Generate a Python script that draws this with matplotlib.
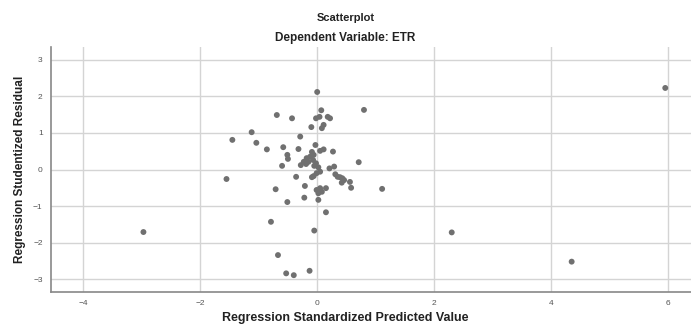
import matplotlib
matplotlib.use('Agg')
import matplotlib.pyplot as plt

# --- Data ---
predicted = [
    5.95, 1.11, 2.30, 4.35, -2.97,
    0.00, 0.80, -0.69, -0.43, 0.07, -0.02, 0.04, 0.18, 0.22, 0.11, 0.08,
    -0.10, -1.12, -1.45, -1.04, -0.29, -0.86, -0.58, -0.32, -0.03, 0.05,
    0.11, 0.27, -0.51, -0.50, -0.09, -0.06, -0.12, -0.18, -0.23, -0.28,
    -0.15, -0.07, -0.02, -0.05, 0.02, -0.19, -0.60, 0.71, 0.21, 0.29,
    -1.55, -0.36, 0.05, -0.01, -0.06, -0.09, 0.31, 0.35, 0.39, 0.43,
    0.46, 0.42, 0.56, 0.58, -0.21, -0.71, -0.01, 0.05, 0.15, 0.02,
    0.08, 0.02, -0.22, -0.51, 0.15, -0.79, -0.05, -0.67, -0.53, -0.40,
    -0.13,
]
residual = [
    2.23, -0.53, -1.72, -2.52, -1.71,
    2.12, 1.63, 1.49, 1.40, 1.62, 1.40, 1.44, 1.44, 1.40, 1.22, 1.13,
    1.16, 1.02, 0.81, 0.73, 0.90, 0.55, 0.61, 0.56, 0.67, 0.51,
    0.55, 0.49, 0.40, 0.29, 0.48, 0.40, 0.35, 0.31, 0.21, 0.12,
    0.21, 0.26, 0.17, 0.10, 0.06, 0.15, 0.10, 0.20, 0.03, 0.08,
    -0.26, -0.20, -0.06, -0.10, -0.18, -0.21, -0.13, -0.20, -0.21, -0.24,
    -0.29, -0.36, -0.34, -0.50, -0.45, -0.54, -0.56, -0.51, -0.51, -0.65,
    -0.61, -0.83, -0.77, -0.89, -1.17, -1.43, -1.67, -2.34, -2.84, -2.89,
    -2.77,
]
x_ticks = [-4, -2, 0, 2, 4, 6]
y_ticks = [-3, -2, -1, 0, 1, 2, 3]

plt.rcParams['font.family'] = ['Liberation Sans', 'DejaVu Sans']

fig = plt.figure(figsize=(6.91, 3.25), dpi=100)
ax = fig.add_axes([51 / 691, 1 - 292 / 325, 640 / 691, 245 / 325])

ax.scatter(predicted, residual, s=18, color='#707070', edgecolors='none', zorder=3)

ax.set_xlim(-4.55, 6.39)
ax.set_ylim(-3.35, 3.35)
ax.set_xticks(x_ticks)
ax.set_yticks(y_ticks)
ax.tick_params(length=0, labelsize=6, colors='#555555', pad=6)
ax.grid(True, color='#d4d4d4', linewidth=1)
ax.set_axisbelow(True)

for side in ['top', 'right']:
    ax.spines[side].set_visible(False)
for side in ['left', 'bottom']:
    ax.spines[side].set_color('#888888')
    ax.spines[side].set_linewidth(1.2)

fig.text(0.5, 1 - 18 / 325, 'Scatterplot', ha='center', va='center',
         fontsize=8, fontweight='bold', color='#222222')
fig.text(0.5, 1 - 38 / 325, 'Dependent Variable: ETR', ha='center', va='center',
         fontsize=8.5, fontweight='bold', color='#222222')
fig.text(0.5, 1 - 318 / 325, 'Regression Standardized Predicted Value', ha='center',
         va='center', fontsize=9, fontweight='bold', color='#222222')
fig.text(20 / 691, 1 - 169 / 325, 'Regression Studentized Residual', ha='center',
         va='center', rotation=90, fontsize=8.5, fontweight='bold', color='#222222')

fig.savefig('out.png', dpi=100)
